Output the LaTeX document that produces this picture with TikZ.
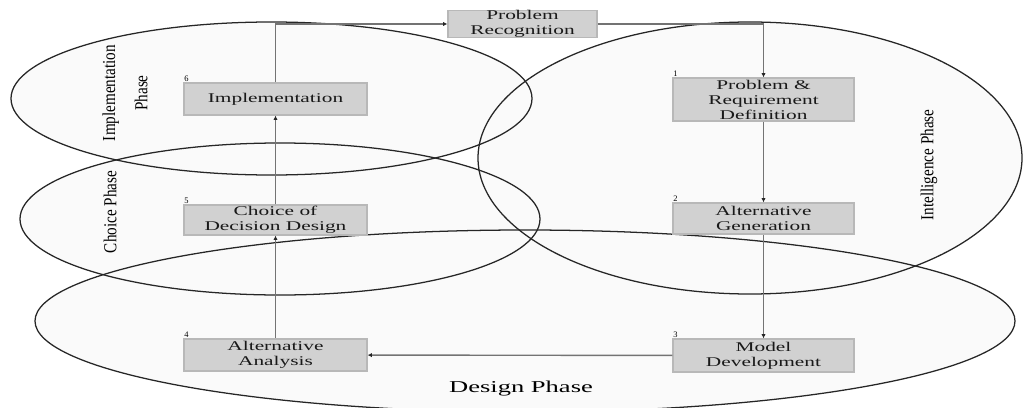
\documentclass[tikz,border=0pt]{standalone}
\usepackage{fontspec}
\setmainfont{Liberation Serif}
\newfontfamily\boxfont[FakeStretch=1.6]{Liberation Serif}
\newfontfamily\phasefont[FakeStretch=0.83]{Liberation Serif}
\newfontfamily\designfont[FakeStretch=1.6]{Liberation Serif}
\usetikzlibrary{arrows.meta}
\begin{document}
\begin{tikzpicture}[x=0.025cm,y=-0.025cm,
  stage/.style={draw=black!28,line width=0.8pt,fill=black!18,inner sep=0pt,
    minimum width=4.575cm,minimum height=0.8cm,align=center,text=black!90,
    font=\boxfont\fontsize{9.5}{10.7}\selectfont},
  numlbl/.style={inner sep=0.5pt,anchor=south west,font=\fontsize{6}{7}\selectfont},
  flow/.style={draw=black!55,line width=1pt,-{Latex[length=3pt,width=3pt,black!85]}},
  phase/.style={draw=black!85,line width=0.9pt},
  phaselbl/.style={rotate=90,align=center,font=\phasefont\fontsize{13}{23}\selectfont}]
\clip (0,0) rectangle (1023,407);
\useasboundingbox (0,0) rectangle (1023,407);
% phase ellipses, light fill first
\fill[black!2] (271.5,98.5) ellipse [x radius=260.5,y radius=76.5];
\fill[black!2] (280,219) ellipse [x radius=260,y radius=76];
\fill[black!2] (750,158) ellipse [x radius=272,y radius=136];
\fill[black!2] (525,321) ellipse [x radius=490,y radius=91];
\draw[phase] (271.5,98.5) ellipse [x radius=260.5,y radius=76.5];
\draw[phase] (280,219) ellipse [x radius=260,y radius=76];
\draw[phase] (750,158) ellipse [x radius=272,y radius=136];
\draw[phase] (525,321) ellipse [x radius=490,y radius=91];
\node[phaselbl] (implphase) at (125,93) {Implementation\\Phase};
\node[phaselbl] (choicephase) at (110,212) {Choice Phase};
\node[phaselbl] (intphase) at (929,165) {Intelligence Phase};
\node[font=\designfont\fontsize{11.8}{13}\selectfont] (desphase) at (521,389) {Design Phase};
% stages
\node[stage,minimum width=3.725cm,minimum height=0.625cm] (recog) at (522.5,24) {Problem\\Recognition};
\node[stage,minimum width=4.525cm,minimum height=1.075cm] (probdef) at (763.5,99.5) {Problem \&\\Requirement\\Definition};
\node[stage,minimum width=4.525cm,minimum height=0.775cm] (altgen) at (763.5,218.5) {Alternative\\Generation};
\node[stage,minimum width=4.525cm,minimum height=0.825cm] (model) at (763.5,355.5) {Model\\Development};
\node[stage] (analysis) at (275.5,355) {Alternative\\Analysis};
\node[stage,minimum height=0.75cm] (choice) at (275.5,220) {Choice of\\Decision Design};
\node[stage] (impl) at (275.5,99) {Implementation};
\node[numlbl] (n1) at (probdef.north west) {1};
\node[numlbl] (n2) at (altgen.north west) {2};
\node[numlbl] (n3) at (model.north west) {3};
\node[numlbl] (n4) at (analysis.north west) {4};
\node[numlbl] (n5) at (choice.north west) {5};
\node[numlbl] (n6) at (impl.north west) {6};
% flow
\draw[flow] (impl.north) |- (recog.west);
\draw[flow] (recog.east) -| (probdef.north);
\draw[flow] (probdef) -- (altgen);
\draw[flow] (altgen) -- (model);
\draw[flow] (model) -- (analysis);
\draw[flow] (analysis) -- (choice);
\draw[flow] (choice) -- (impl);
\end{tikzpicture}
\end{document}
